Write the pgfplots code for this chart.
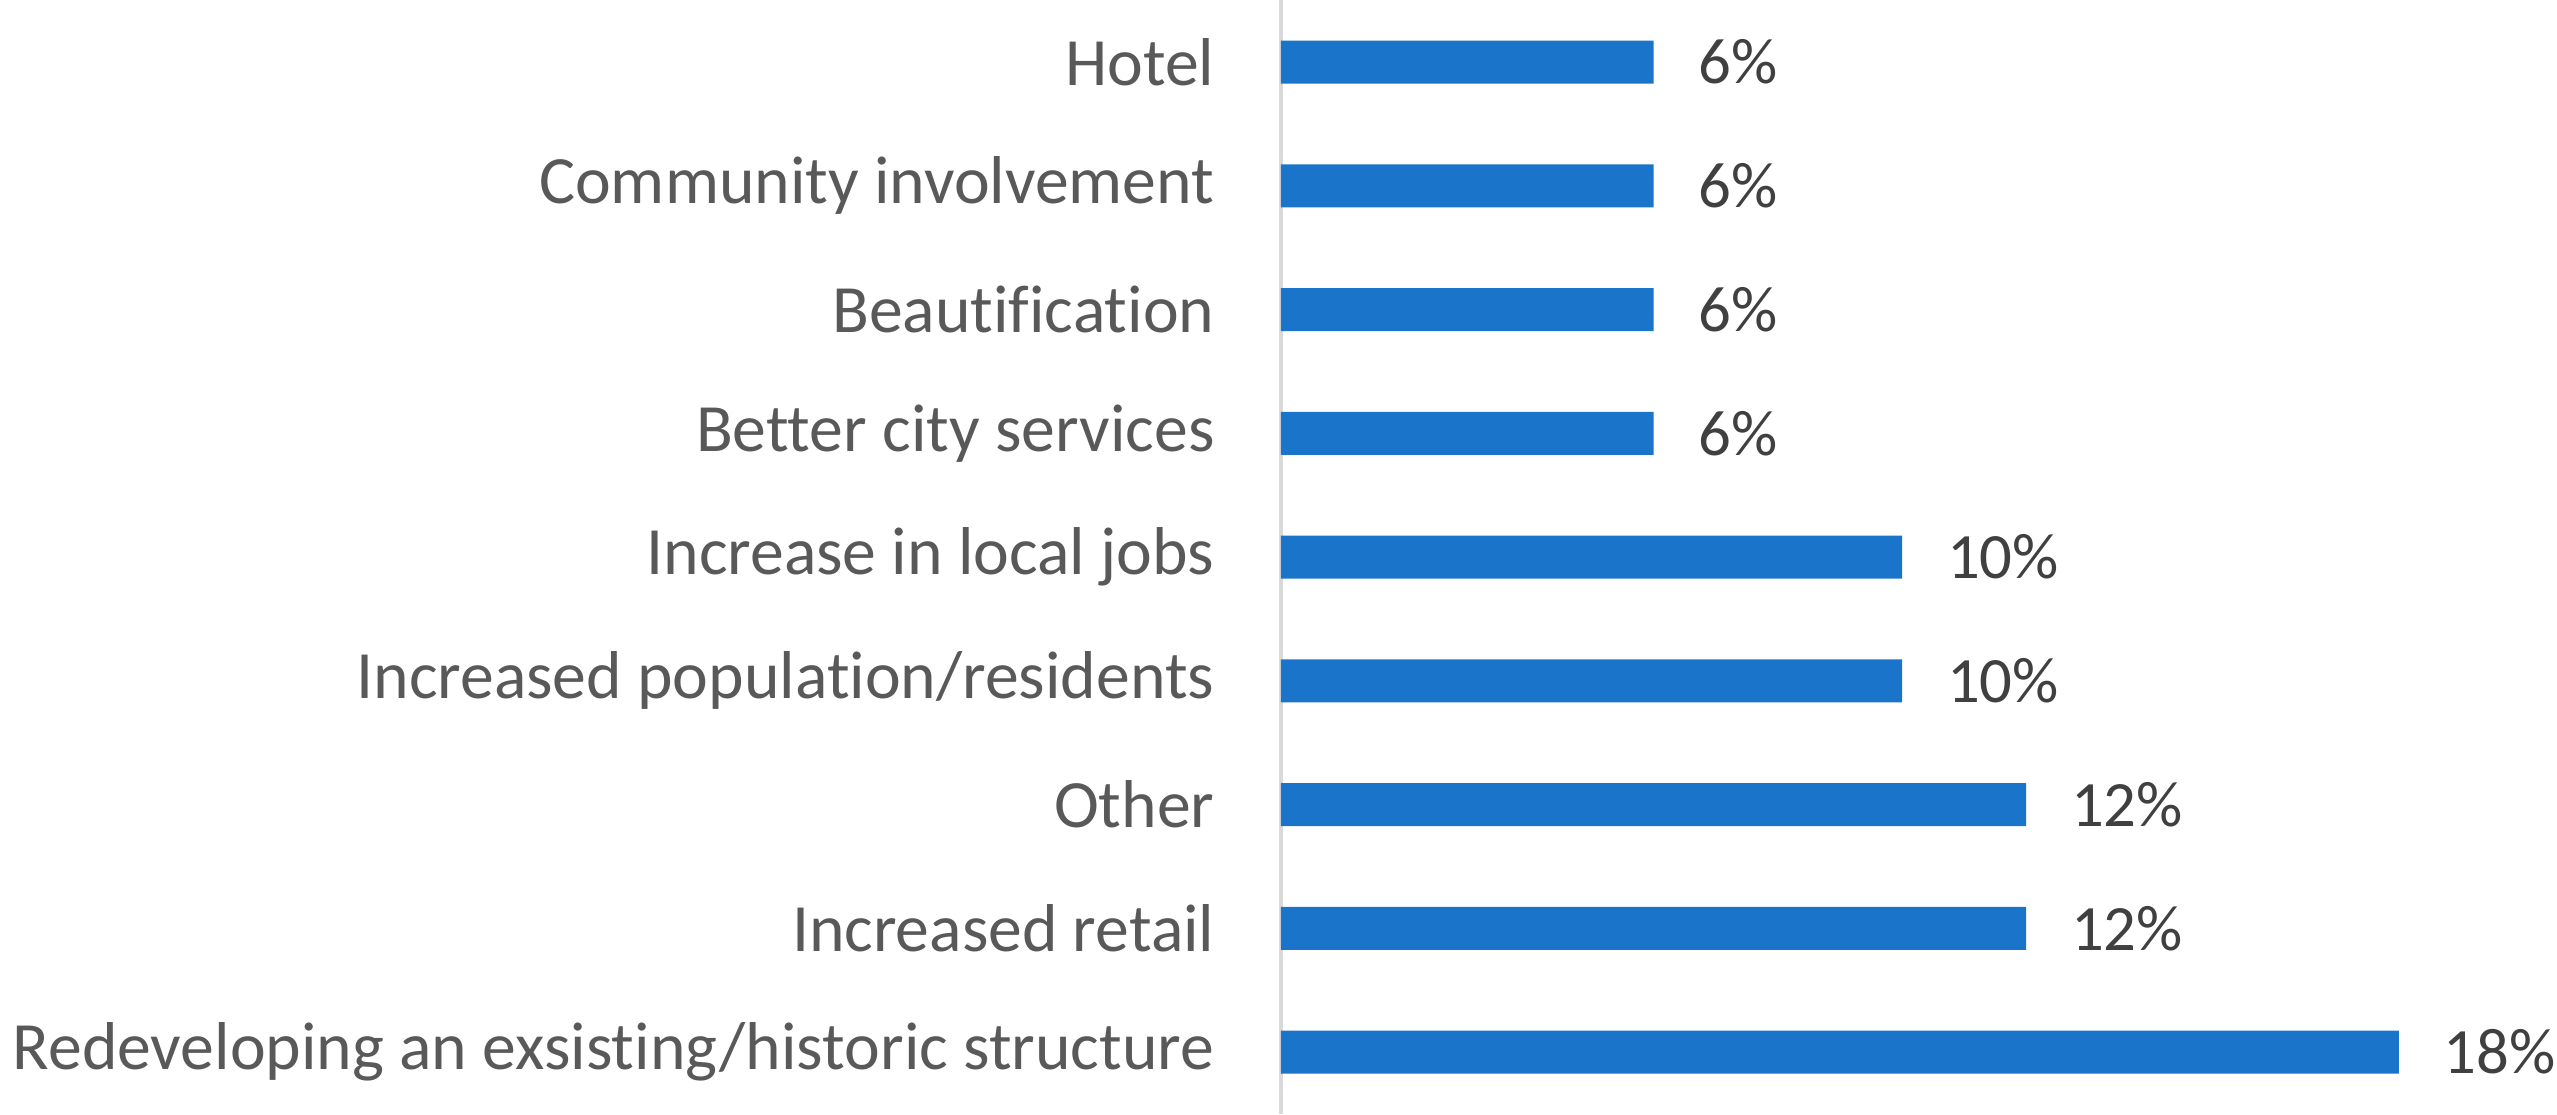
\documentclass[border=0pt]{standalone}
\usepackage{pgfplots}
\pgfplotsset{compat=1.18}
\usepackage{fontspec}
\setmainfont{Carlito}[Ligatures={NoCommon}]
\definecolor{barblue}{HTML}{1A74C9}
\definecolor{labgray}{HTML}{595959}
\definecolor{numgray}{HTML}{404040}
\definecolor{axgray}{HTML}{D9D9D9}
\begin{document}
\begin{tikzpicture}
\begin{axis}[
  at={(0pt,0pt)}, anchor=south west,
  scale only axis,
  width=372.6pt, height=334.125pt,
  xmin=0, xmax=20, ymin=-0.5, ymax=8.5,
  xbar, bar width=12.9pt,
  hide x axis,
  axis y line*=left,
  y axis line style={axgray, line width=1pt},
  ytick={0,...,8},
  yticklabels={Redeveloping an exsisting/historic structure, Increased retail, Other, Increased population/residents, Increase in local jobs, Better city services, Beautification, Community involvement, Hotel},
  major tick length=0pt,
  yticklabel style={inner sep=0pt, xshift=-19.8pt, font=\fontsize{20.3}{24}\selectfont, text=labgray},
  nodes near coords={\pgfmathprintnumber{\pgfplotspointmeta}\%},
  /pgf/number format/assume math mode=true,
  every node near coord/.append style={anchor=west, inner sep=0pt, xshift=13.3pt, font=\fontsize{19.4}{24}\selectfont, text=numgray},
]
\addplot[fill=barblue, draw=none] coordinates {
(18,0) (12,1) (12,2) (10,3) (10,4) (6,5) (6,6) (6,7) (6,8)};
\end{axis}
\pgfresetboundingbox
\path (-384.3pt,0pt) rectangle (382.8pt,334.2pt);
\end{tikzpicture}
\end{document}
